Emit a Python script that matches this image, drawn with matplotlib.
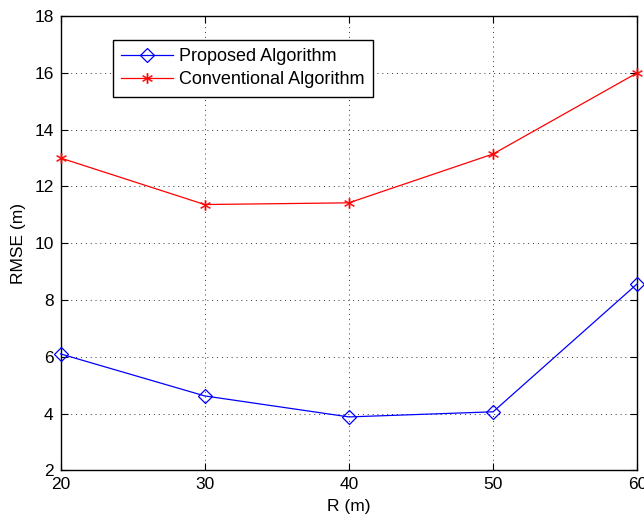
import matplotlib
matplotlib.use("Agg")
import matplotlib.pyplot as plt

radius = [20, 30, 40, 50, 60]
proposed_rmse = [6.1, 4.62, 3.88, 4.06, 8.57]
conventional_rmse = [13.0, 11.36, 11.42, 13.14, 16.0]
x_ticks = [20, 30, 40, 50, 60]
y_ticks = [2, 4, 6, 8, 10, 12, 14, 16, 18]

plt.rcParams['font.family'] = ['Liberation Sans', 'DejaVu Sans']

fig = plt.figure(figsize=(6.44, 5.18), dpi=100)
ax = fig.add_axes([60.5 / 644, 1 - 470.3 / 518, (637.3 - 60.5) / 644, (470.3 - 16) / 518])

ax.plot(radius, proposed_rmse, color='blue', lw=0.9, marker='D', markersize=7,
        markerfacecolor='none', markeredgecolor='blue', markeredgewidth=0.9,
        label='Proposed Algorithm', clip_on=False, zorder=3)
ax.plot(radius, conventional_rmse, color='red', lw=0.9, marker='$*$', markersize=7.5,
        markeredgewidth=0.2, label='Conventional Algorithm', clip_on=False, zorder=3)

ax.set_xlim(20, 60)
ax.set_ylim(2, 18)
ax.set_xticks(x_ticks)
ax.set_yticks(y_ticks)
ax.tick_params(direction='in', length=5, width=0.8, top=True, right=True,
               labelsize=12.5, pad=5, colors='black')
ax.grid(True, linestyle=(0, (1, 4)), color='#333333', linewidth=0.7)
for s in ax.spines.values():
    s.set_linewidth(1.0)

ax.set_xlabel('R (m)', fontsize=12.5, labelpad=5)
ax.set_ylabel('RMSE (m)', fontsize=12.5, labelpad=6)

leg = ax.legend(loc='upper left', bbox_to_anchor=((112.5 - 60.5) / 576.8, 1 - (40 - 16) / 454.3),
                fancybox=False, framealpha=1, edgecolor='black', fontsize=13,
                handlelength=2.9, handletextpad=0.35, borderaxespad=0,
                borderpad=0.45, labelspacing=0.35)
leg.get_frame().set_linewidth(1.0)

fig.savefig('out.png', dpi=100)
